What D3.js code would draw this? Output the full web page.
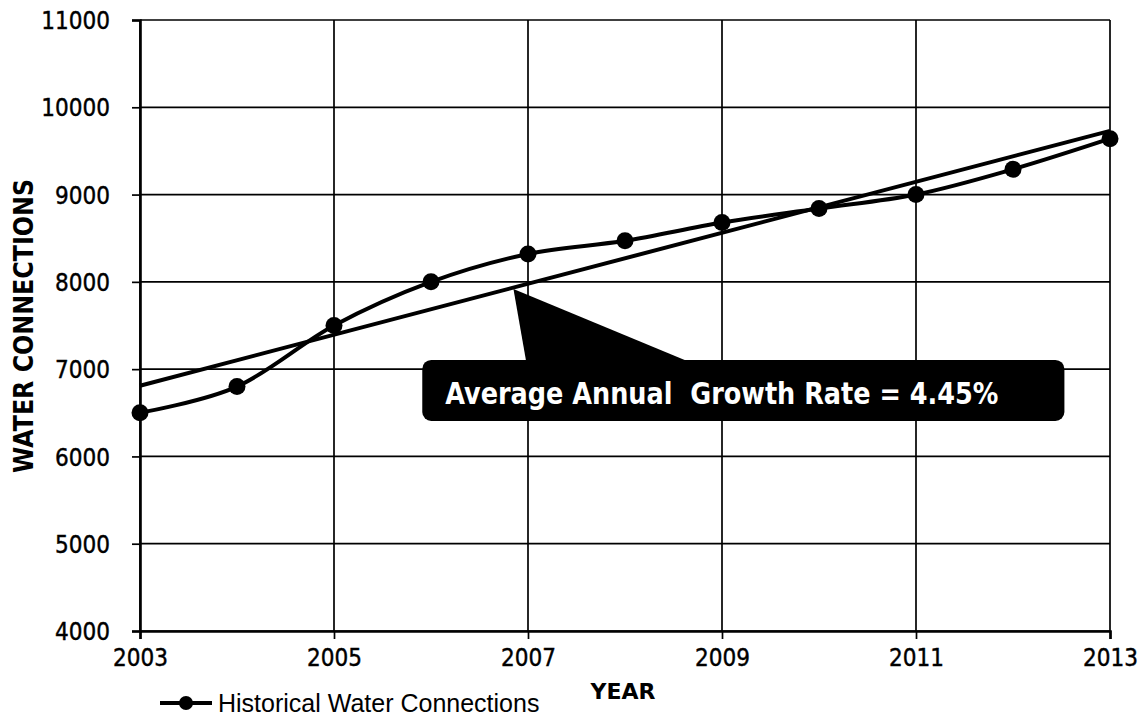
<!DOCTYPE html>
<html>
<head>
<meta charset="utf-8">
<script src="https://cdnjs.cloudflare.com/ajax/libs/d3/7.8.5/d3.min.js"></script>
<style>
  html, body { margin: 0; padding: 0; background: #fff; }
  svg { display: block; }
</style>
</head>
<body>
<svg id="vis"></svg>
<script>
// chart values
const years = [2003, 2004, 2005, 2006, 2007, 2008, 2009, 2010, 2011, 2012, 2013];
const connections = [6500, 6800, 7500, 8000, 8320, 8470, 8680, 8840, 9000, 9290, 9640];
const trendYears = [2003, 2013];
const trendValues = [6810, 9730];
const xTicks = [2003, 2005, 2007, 2009, 2011, 2013];
const yTicks = [4000, 5000, 6000, 7000, 8000, 9000, 10000, 11000];
const seriesName = "Historical Water Connections";
const calloutText = "Average Annual  Growth Rate = 4.45%";

let config = {
  'svg': {},
  'plot': {},
  'legend': {}
};

config.svg.width = 1142;
config.svg.height = 728;

config.plot.x = 140;
config.plot.y = 20;
config.plot.width = 970;
config.plot.height = 611;

config.legend.x = 160;
config.legend.y = 703;

const svg = d3.select("svg#vis");
svg.attr('width', config.svg.width);
svg.attr('height', config.svg.height);

let scale = {};

scale.x = d3.scaleLinear()
  .domain([2003, 2013])
  .range([0, config.plot.width]);

scale.y = d3.scaleLinear()
  .domain([4000, 11000])
  .range([config.plot.height, 0]);

let plot = svg.append('g')
  .attr('id', 'plot')
  .attr('transform', translate(config.plot.x, config.plot.y));

// grid
plot.append('g')
  .attr('id', 'grid-y')
  .selectAll('line')
  .data(yTicks)
  .enter()
  .append('line')
  .attr('x1', 0)
  .attr('x2', config.plot.width)
  .attr('y1', d => scale.y(d))
  .attr('y2', d => scale.y(d))
  .attr('stroke', '#000')
  .attr('stroke-width', 1.7);

plot.append('g')
  .attr('id', 'grid-x')
  .selectAll('line')
  .data(xTicks)
  .enter()
  .append('line')
  .attr('x1', d => scale.x(d))
  .attr('x2', d => scale.x(d))
  .attr('y1', 0)
  .attr('y2', config.plot.height)
  .attr('stroke', '#000')
  .attr('stroke-width', 1.7);

let axis = {};

axis.x = d3.axisBottom(scale.x)
  .tickValues(xTicks)
  .tickFormat(d3.format('d'))
  .tickSize(8)
  .tickPadding(10);

axis.y = d3.axisLeft(scale.y)
  .tickValues(yTicks)
  .tickFormat(d3.format('d'))
  .tickSize(8)
  .tickPadding(22);

let gx = plot.append('g')
  .attr('id', 'x-axis')
  .attr('transform', translate(0, config.plot.height))
  .call(axis.x);

let gy = plot.append('g')
  .attr('id', 'y-axis')
  .call(axis.y);

[gx, gy].forEach(function(g) {
  g.select('.domain').attr('stroke', '#000').attr('stroke-width', 2.6);
  g.selectAll('.tick line').attr('stroke', '#000').attr('stroke-width', 1.7);
  g.selectAll('.tick text')
    .attr('fill', '#000')
    .attr('stroke', '#000')
    .attr('stroke-width', 0.4)
    .style('font-family', '"DejaVu Sans Condensed", "DejaVu Sans", sans-serif')
    .style('font-size', '24px');
});

gy.selectAll('.tick text').attr('x', -30).attr('dy', '0.36em');

// trend line
let trend = trendYears.map((d, i) => ({ year: d, value: trendValues[i] }));

plot.append('path')
  .datum(trend)
  .attr('fill', 'none')
  .attr('stroke', '#000')
  .attr('stroke-width', 4)
  .attr('d', d3.line().x(d => scale.x(d.year)).y(d => scale.y(d.value)));

// historical series
let data = years.map((d, i) => ({ year: d, value: connections[i] }));

plot.append('path')
  .datum(data)
  .attr('fill', 'none')
  .attr('stroke', '#000')
  .attr('stroke-width', 4)
  .attr('d', d3.line()
    .curve(d3.curveCardinal.tension(0))
    .x(d => scale.x(d.year))
    .y(d => scale.y(d.value)));

plot.selectAll('circle.point')
  .data(data)
  .enter()
  .append('circle')
  .attr('class', 'point')
  .attr('cx', d => scale.x(d.year))
  .attr('cy', d => scale.y(d.value))
  .attr('r', 8.5)
  .attr('fill', '#000');

drawCallout();
drawTitles();
drawLegend();

function drawCallout() {
  // box and pointer placed in data units
  let box = { x0: 2005.91, x1: 2012.53, top: 7105, bottom: 6406 };
  let tip = { year: 2006.85, value: 7918 };
  let base = [2006.98, 2008.64];

  let callout = plot.append('g').attr('id', 'callout');

  callout.append('path')
    .attr('d', 'M' + scale.x(tip.year) + ',' + scale.y(tip.value) +
      'L' + scale.x(base[1]) + ',' + (scale.y(box.top) + 1) +
      'L' + scale.x(base[0]) + ',' + (scale.y(box.top) + 1) + 'Z')
    .attr('fill', '#000');

  callout.append('rect')
    .attr('x', scale.x(box.x0))
    .attr('y', scale.y(box.top))
    .attr('width', scale.x(box.x1) - scale.x(box.x0))
    .attr('height', scale.y(box.bottom) - scale.y(box.top))
    .attr('rx', 9)
    .attr('fill', '#000');

  callout.append('text')
    .text(calloutText)
    .attr('x', scale.x(box.x0) + 23)
    .attr('y', scale.y(box.top) + 44)
    .attr('fill', '#fff')
    .attr('textLength', 553)
    .attr('lengthAdjust', 'spacingAndGlyphs')
    .style('white-space', 'pre')
    .style('font-family', '"DejaVu Sans Condensed", "DejaVu Sans", sans-serif')
    .style('font-weight', 'bold')
    .style('font-size', '31px');
}

function drawTitles() {
  svg.append('text')
    .text('YEAR')
    .attr('x', 623)
    .attr('y', 699)
    .attr('text-anchor', 'middle')
    .style('font-family', '"DejaVu Sans", sans-serif')
    .style('font-weight', 'bold')
    .style('font-size', '22px');

  svg.append('text')
    .text('WATER CONNECTIONS')
    .attr('transform', translate(33, 326) + ' rotate(-90)')
    .attr('text-anchor', 'middle')
    .attr('textLength', 294)
    .attr('lengthAdjust', 'spacingAndGlyphs')
    .style('font-family', '"DejaVu Sans", sans-serif')
    .style('font-weight', 'bold')
    .style('font-size', '27px');
}

function drawLegend() {
  let legend = svg.append('g')
    .attr('id', 'legend')
    .attr('transform', translate(config.legend.x, config.legend.y));

  legend.append('line')
    .attr('x1', 0)
    .attr('x2', 52)
    .attr('stroke', '#000')
    .attr('stroke-width', 4);

  legend.append('circle')
    .attr('cx', 26)
    .attr('r', 7)
    .attr('fill', '#000');

  legend.append('text')
    .text(seriesName)
    .attr('x', 58)
    .attr('y', 9)
    .style('font-family', '"Liberation Sans", Arial, sans-serif')
    .style('font-size', '25px');
}

function translate(x, y) {
  return 'translate(' + x + ',' + y + ')';
}
</script>
</body>
</html>
